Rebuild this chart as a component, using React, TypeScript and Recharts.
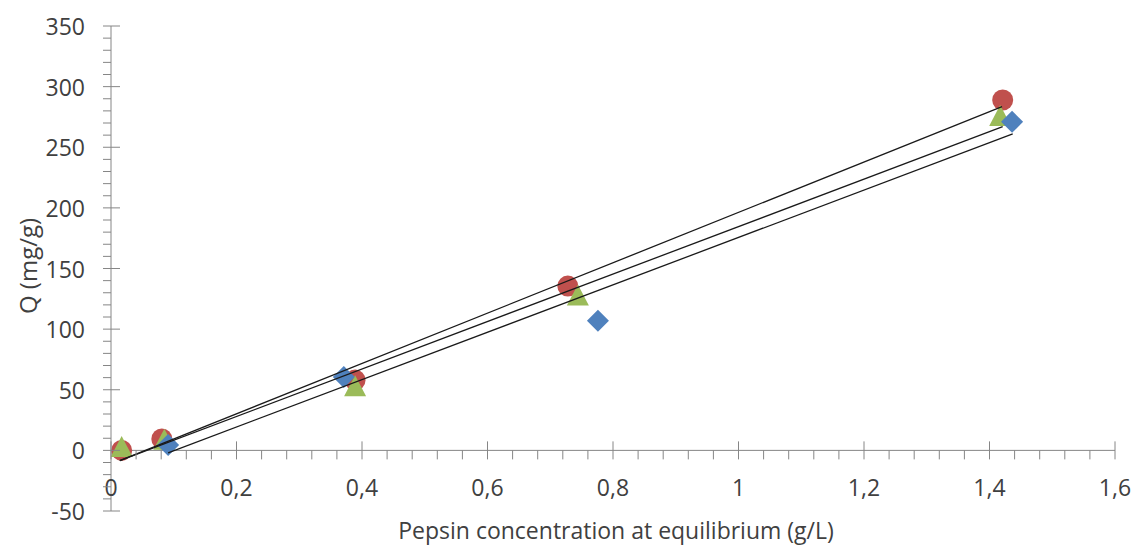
import { ScatterChart, Scatter, XAxis, YAxis, ReferenceLine } from "recharts";

// measured points (x = g/L, y = mg/g)
const blueX = [0.091, 0.371, 0.776, 1.436];
const blueY = [4.5, 60.6, 107, 271];
const redX = [0.017, 0.081, 0.389, 0.728, 1.421];
const redY = [0, 9.4, 58, 135.5, 289];
const greenX = [0.017, 0.085, 0.389, 0.744, 1.417];
const greenY = [2, 8, 52, 127, 275];

// trend line end points
const trendTopX = [0.014, 1.42];
const trendTopY = [-8.5, 283.5];
const trendMidX = [0.014, 1.421];
const trendMidY = [-8.5, 267];
const trendLowX = [0.091, 1.437];
const trendLowY = [-2, 261];

const xMajorTicks = [0, 0.2, 0.4, 0.6, 0.8, 1, 1.2, 1.4, 1.6];
const yMajorTicks = [-50, 0, 50, 100, 150, 200, 250, 300, 350];

const W = 1137;
const H = 548;
const LEFT = 111;
const RIGHT = 22;
const TOP = 26;
const BOTTOM = 37;
const Y_MIN = -50;
const Y_MAX = 350;
const PLOT_H = H - TOP - BOTTOM;
const ZERO_Y = TOP + (PLOT_H * Y_MAX) / (Y_MAX - Y_MIN);

const AXIS = "#868686";
const TXT = "#404040";
const FONT = "'Open Sans', sans-serif";
const FS = 23;

const pts = (xs: number[], ys: number[]) => xs.map((x, i) => ({ x, y: ys[i] }));

// minor ticks: 5 per major interval
const xTicks = xMajorTicks.slice(0, -1).flatMap((v, i) =>
  [0, 1, 2, 3, 4].map((k) => +(v + (k * (xMajorTicks[i + 1] - v)) / 5).toFixed(3))
).concat([1.6]);
const yTicks = yMajorTicks.slice(0, -1).flatMap((v) =>
  [0, 10, 20, 30, 40].map((k) => v + k)
).concat([350]);

const fmt = (v: number) => String(v).replace(".", ",");

const XTick = (props: any) => {
  const { x, payload } = props;
  const v = payload.value;
  const major = xMajorTicks.some((m) => Math.abs(m - v) < 1e-6);
  return (
    <g>
      <line x1={x} x2={x} y1={major ? ZERO_Y - 9 : ZERO_Y} y2={ZERO_Y + 9} stroke={AXIS} strokeWidth={1} />
      {major && (
        <text x={x} y={ZERO_Y + 37} textAnchor="middle" dominantBaseline="central" fill={TXT} fontSize={FS} fontFamily={FONT}>
          {fmt(v)}
        </text>
      )}
    </g>
  );
};

const YTick = (props: any) => {
  const { y, payload } = props;
  const v = payload.value;
  const major = v % 50 === 0;
  return (
    <g>
      <line x1={LEFT - 8} x2={major ? LEFT + 9 : LEFT} y1={y} y2={y} stroke={AXIS} strokeWidth={1} />
      {major && (
        <text x={LEFT - 26} y={y} textAnchor="end" dominantBaseline="central" fill={TXT} fontSize={FS} fontFamily={FONT}>
          {v}
        </text>
      )}
    </g>
  );
};

const Circle = (p: any) => <circle cx={p.cx} cy={p.cy} r={10.5} fill="#C0504D" />;
const Triangle = (p: any) => (
  <polygon points={`${p.cx},${p.cy - 12} ${p.cx + 11},${p.cy + 9} ${p.cx - 11},${p.cy + 9}`} fill="#9BBB59" />
);
const Diamond = (p: any) => (
  <polygon points={`${p.cx},${p.cy - 11} ${p.cx + 11},${p.cy} ${p.cx},${p.cy + 11} ${p.cx - 11},${p.cy}`} fill="#4F81BD" />
);
const NoDot = () => <g />;

const trendLine = { stroke: "#1a1a1a", strokeWidth: 1.3 };

export default function App() {
  return (
    <div style={{ position: "absolute", left: 0, top: 0, width: W, height: H, background: "#fff" }}>
      <ScatterChart width={W} height={H} margin={{ top: TOP, right: RIGHT, bottom: 0, left: 0 }}>
        <XAxis
          type="number"
          dataKey="x"
          domain={[0, 1.6]}
          ticks={xTicks}
          interval={0}
          height={BOTTOM}
          axisLine={false}
          tickLine={false}
          tick={<XTick />}
          allowDataOverflow
        />
        <YAxis
          type="number"
          dataKey="y"
          domain={[Y_MIN, Y_MAX]}
          ticks={yTicks}
          interval={0}
          width={LEFT}
          axisLine={{ stroke: AXIS }}
          tickLine={false}
          tick={<YTick />}
          allowDataOverflow
        />
        <ReferenceLine y={0} stroke={AXIS} strokeWidth={1} />
        <Scatter data={pts(redX, redY)} shape={<Circle />} isAnimationActive={false} />
        <Scatter data={pts(greenX, greenY)} shape={<Triangle />} isAnimationActive={false} />
        <Scatter data={pts(blueX, blueY)} shape={<Diamond />} isAnimationActive={false} />
        <Scatter data={pts(trendTopX, trendTopY)} line={trendLine} shape={<NoDot />} isAnimationActive={false} />
        <Scatter data={pts(trendMidX, trendMidY)} line={trendLine} shape={<NoDot />} isAnimationActive={false} />
        <Scatter data={pts(trendLowX, trendLowY)} line={trendLine} shape={<NoDot />} isAnimationActive={false} />
      </ScatterChart>
      <div
        style={{
          position: "absolute",
          left: 27,
          top: 266,
          transform: "translate(-50%, -50%) rotate(-90deg)",
          whiteSpace: "nowrap",
          fontFamily: FONT,
          fontSize: 24,
          color: TXT,
        }}
      >
        Q (mg/g)
      </div>
      <div
        style={{
          position: "absolute",
          left: 616,
          top: 530,
          transform: "translate(-50%, -50%)",
          whiteSpace: "nowrap",
          fontFamily: FONT,
          fontSize: FS,
          color: TXT,
        }}
      >
        Pepsin concentration at equilibrium (g/L)
      </div>
    </div>
  );
}
